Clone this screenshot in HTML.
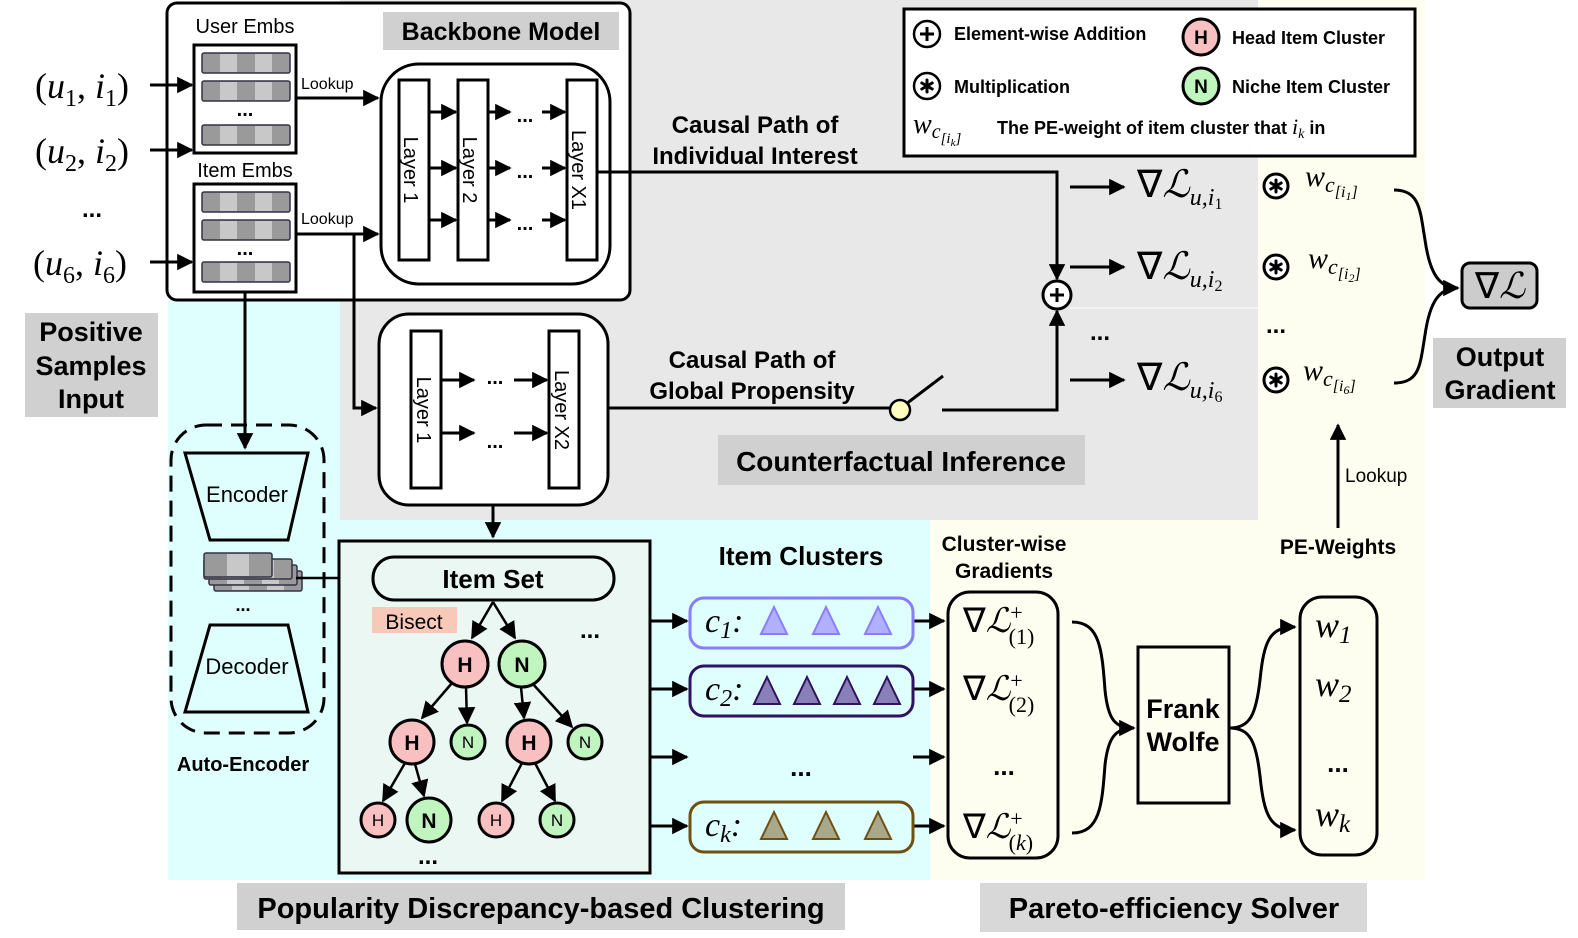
<!DOCTYPE html>
<html><head><meta charset="utf-8"><style>
html,body{margin:0;padding:0;background:#fff;}
svg{display:block;}
.s{font-family:"Liberation Sans",sans-serif;}
.b{font-family:"Liberation Sans",sans-serif;font-weight:bold;}
.m{font-family:"Liberation Serif",serif;font-style:italic;}
.r{font-family:"Liberation Serif",serif;}
</style></head><body>
<svg width="1578" height="938" viewBox="0 0 1578 938" xmlns="http://www.w3.org/2000/svg">
<defs>
<marker id="a" viewBox="0 0 10 10" refX="9" refY="5" markerWidth="6" markerHeight="5.5" orient="auto-start-reverse" markerUnits="strokeWidth"><path d="M0,0 L10,5 L0,10 z" fill="#000"/></marker>
<marker id="a2" viewBox="0 0 10 10" refX="9" refY="5" markerWidth="7" markerHeight="7" orient="auto" markerUnits="strokeWidth"><path d="M0,0 L10,5 L0,10 z" fill="#000"/></marker>
<g id="row"><rect x="0" y="0" width="88" height="20" fill="#9a9a9a" stroke="#334" stroke-width="1.5" rx="2"/><rect x="18" y="1" width="17" height="18" fill="#c8c8c8"/><rect x="53" y="1" width="17" height="18" fill="#c8c8c8"/></g>
<g id="star"><g stroke="#000" stroke-width="3" stroke-linecap="round"><line x1="0" y1="-6" x2="0" y2="6"/><line x1="-5.2" y1="-3" x2="5.2" y2="3"/><line x1="-5.2" y1="3" x2="5.2" y2="-3"/></g></g>
</defs>
<!-- background regions -->
<rect x="168" y="300" width="762" height="580" fill="#dffefe"/>
<rect x="930" y="520" width="495" height="360" fill="#fefef0"/>
<rect x="1258" y="0" width="167" height="520" fill="#fefef0"/>
<rect x="340" y="0" width="918" height="520" fill="#e8e8e8"/>
<line x1="1258" y1="308" x2="1070" y2="308" stroke="#f4f4f4" stroke-width="2"/>

<!-- backbone box -->
<rect x="167" y="3" width="463" height="297" rx="10" fill="#fff" stroke="#000" stroke-width="3"/>
<rect x="383" y="12" width="236" height="38" fill="#d0d0d0"/>
<text x="501" y="40" class="b" font-size="25" text-anchor="middle">Backbone Model</text>
<text x="245" y="33" class="s" font-size="20" text-anchor="middle">User Embs</text>
<rect x="194" y="45" width="102" height="108" fill="#fff" stroke="#000" stroke-width="3"/>
<use href="#row" x="202" y="53"/><use href="#row" x="202" y="81"/><use href="#row" x="202" y="125"/>
<text x="245" y="116" class="b" font-size="20" text-anchor="middle">...</text>
<text x="245" y="177" class="s" font-size="20" text-anchor="middle">Item Embs</text>
<rect x="194" y="184" width="102" height="108" fill="#fff" stroke="#000" stroke-width="3"/>
<use href="#row" x="202" y="192"/><use href="#row" x="202" y="220"/><use href="#row" x="202" y="262"/>
<text x="245" y="255" class="b" font-size="20" text-anchor="middle">...</text>
<text x="301" y="89" class="s" font-size="16">Lookup</text>
<text x="301" y="224" class="s" font-size="16">Lookup</text>
<line x1="296" y1="98" x2="378" y2="98" stroke="#000" stroke-width="3" marker-end="url(#a)"/>
<line x1="296" y1="234" x2="378" y2="234" stroke="#000" stroke-width="3" marker-end="url(#a)"/>
<rect x="381" y="64" width="229" height="220" rx="38" fill="#fff" stroke="#000" stroke-width="3"/>
<rect x="399" y="80" width="30" height="180" fill="#fff" stroke="#000" stroke-width="3"/>
<rect x="458" y="80" width="30" height="180" fill="#fff" stroke="#000" stroke-width="3"/>
<rect x="567" y="80" width="30" height="180" fill="#fff" stroke="#000" stroke-width="3"/>
<text transform="translate(404,170) rotate(90)" class="s" font-size="20" text-anchor="middle">Layer 1</text>
<text transform="translate(463,170) rotate(90)" class="s" font-size="20" text-anchor="middle">Layer 2</text>
<text transform="translate(572,170) rotate(90)" class="s" font-size="20" text-anchor="middle">Layer X1</text>
<g stroke="#000" stroke-width="3">
<line x1="429" y1="112" x2="456" y2="112" marker-end="url(#a)"/><line x1="429" y1="168" x2="456" y2="168" marker-end="url(#a)"/><line x1="429" y1="220" x2="456" y2="220" marker-end="url(#a)"/>
<line x1="488" y1="112" x2="510" y2="112" marker-end="url(#a)"/><line x1="488" y1="168" x2="510" y2="168" marker-end="url(#a)"/><line x1="488" y1="220" x2="510" y2="220" marker-end="url(#a)"/>
<line x1="542" y1="112" x2="565" y2="112" marker-end="url(#a)"/><line x1="542" y1="168" x2="565" y2="168" marker-end="url(#a)"/><line x1="542" y1="220" x2="565" y2="220" marker-end="url(#a)"/>
</g>
<text x="525" y="122" class="b" font-size="20" text-anchor="middle">...</text>
<text x="525" y="178" class="b" font-size="20" text-anchor="middle">...</text>
<text x="525" y="230" class="b" font-size="20" text-anchor="middle">...</text>

<!-- inputs -->
<g class="r" font-size="36">
<text x="35" y="98">(<tspan class="m">u</tspan><tspan font-size="24" dy="8">1</tspan><tspan dy="-8">, </tspan><tspan class="m">i</tspan><tspan font-size="24" dy="8">1</tspan><tspan dy="-8">)</tspan></text>
<text x="35" y="163">(<tspan class="m">u</tspan><tspan font-size="24" dy="8">2</tspan><tspan dy="-8">, </tspan><tspan class="m">i</tspan><tspan font-size="24" dy="8">2</tspan><tspan dy="-8">)</tspan></text>
<text x="33" y="275">(<tspan class="m">u</tspan><tspan font-size="24" dy="8">6</tspan><tspan dy="-8">, </tspan><tspan class="m">i</tspan><tspan font-size="24" dy="8">6</tspan><tspan dy="-8">)</tspan></text>
</g>
<text x="92" y="217" class="b" font-size="24" text-anchor="middle">...</text>
<g stroke="#000" stroke-width="3">
<line x1="150" y1="85" x2="192" y2="85" marker-end="url(#a)"/>
<line x1="150" y1="150" x2="192" y2="150" marker-end="url(#a)"/>
<line x1="150" y1="262" x2="192" y2="262" marker-end="url(#a)"/>
</g>
<rect x="25" y="313" width="133" height="104" fill="#d0d0d0"/>
<g class="b" font-size="27" text-anchor="middle"><text x="91" y="341">Positive</text><text x="91" y="375">Samples</text><text x="91" y="408">Input</text></g>

<!-- connectors from backbone -->
<line x1="245" y1="292" x2="245" y2="448" stroke="#000" stroke-width="3" marker-end="url(#a)"/>
<polyline points="296,234 354,234 354,408 376,408" fill="none" stroke="#000" stroke-width="3" marker-end="url(#a)"/>

<!-- global propensity -->
<rect x="379" y="314" width="229" height="191" rx="30" fill="#fff" stroke="#000" stroke-width="3"/>
<rect x="411" y="331" width="30" height="157" fill="#fff" stroke="#000" stroke-width="3"/>
<rect x="549" y="331" width="30" height="157" fill="#fff" stroke="#000" stroke-width="3"/>
<text transform="translate(417,410) rotate(90)" class="s" font-size="20" text-anchor="middle">Layer 1</text>
<text transform="translate(555,410) rotate(90)" class="s" font-size="20" text-anchor="middle">Layer X2</text>
<g stroke="#000" stroke-width="3">
<line x1="441" y1="380" x2="474" y2="380" marker-end="url(#a)"/><line x1="441" y1="433" x2="474" y2="433" marker-end="url(#a)"/>
<line x1="514" y1="380" x2="547" y2="380" marker-end="url(#a)"/><line x1="514" y1="433" x2="547" y2="433" marker-end="url(#a)"/>
</g>
<text x="495" y="384" class="b" font-size="20" text-anchor="middle">...</text>
<text x="495" y="448" class="b" font-size="20" text-anchor="middle">...</text>
<line x1="493" y1="505" x2="493" y2="537" stroke="#000" stroke-width="3" marker-end="url(#a)"/>

<!-- causal paths -->
<g class="b" font-size="24" text-anchor="middle">
<text x="755" y="133">Causal Path of</text><text x="755" y="164">Individual Interest</text>
<text x="752" y="368">Causal Path of</text><text x="752" y="399">Global Propensity</text>
</g>
<polyline points="597,172 1057,172 1057,279" fill="none" stroke="#000" stroke-width="3" marker-end="url(#a)"/>
<line x1="608" y1="408" x2="890" y2="408" stroke="#000" stroke-width="3"/>
<line x1="906" y1="404" x2="943" y2="376" stroke="#000" stroke-width="3"/>
<circle cx="900" cy="410" r="10" fill="#ffffc0" stroke="#000" stroke-width="2.5"/>
<polyline points="942,410 1057,410 1057,311" fill="none" stroke="#000" stroke-width="3" marker-end="url(#a)"/>
<circle cx="1057" cy="295" r="14" fill="#fff" stroke="#000" stroke-width="3"/>
<g stroke="#000" stroke-width="3"><line x1="1050" y1="295" x2="1064" y2="295"/><line x1="1057" y1="288" x2="1057" y2="302"/></g>
<rect x="718" y="435" width="367" height="50" fill="#d0d0d0"/>
<text x="901" y="471" class="b" font-size="28" text-anchor="middle">Counterfactual Inference</text>

<!-- gradients -->
<g stroke="#000" stroke-width="3">
<line x1="1070" y1="187" x2="1124" y2="187" marker-end="url(#a)"/>
<line x1="1070" y1="267" x2="1124" y2="267" marker-end="url(#a)"/>
<line x1="1070" y1="380" x2="1124" y2="380" marker-end="url(#a)"/>
</g>
<text x="1100" y="340" class="b" font-size="24" text-anchor="middle">...</text>
<g class="r" font-size="38">
<text x="1137" y="197">∇<tspan class="m">ℒ</tspan><tspan class="m" font-size="24" dy="8">u,i</tspan><tspan font-size="16" dy="4">1</tspan></text>
<text x="1137" y="279">∇<tspan class="m">ℒ</tspan><tspan class="m" font-size="24" dy="8">u,i</tspan><tspan font-size="16" dy="4">2</tspan></text>
<text x="1137" y="390">∇<tspan class="m">ℒ</tspan><tspan class="m" font-size="24" dy="8">u,i</tspan><tspan font-size="16" dy="4">6</tspan></text>
</g>
<g stroke="#000" stroke-width="3" fill="#fff">
<circle cx="1276" cy="186" r="12"/><circle cx="1276" cy="267" r="12"/><circle cx="1276" cy="380" r="12"/>
</g>
<use href="#star" x="1276" y="186"/><use href="#star" x="1276" y="267"/><use href="#star" x="1276" y="380"/>
<text x="1276" y="333" class="b" font-size="24" text-anchor="middle">...</text>
<g class="m" font-size="30">
<text x="1305" y="186">w<tspan font-size="22" dy="6">c</tspan><tspan font-size="16" dy="5" class="r">[</tspan><tspan font-size="16">i</tspan><tspan font-size="12" dy="3" class="r">1</tspan><tspan font-size="16" dy="-3" class="r">]</tspan></text>
<text x="1308" y="268">w<tspan font-size="22" dy="6">c</tspan><tspan font-size="16" dy="5" class="r">[</tspan><tspan font-size="16">i</tspan><tspan font-size="12" dy="3" class="r">2</tspan><tspan font-size="16" dy="-3" class="r">]</tspan></text>
<text x="1303" y="380">w<tspan font-size="22" dy="6">c</tspan><tspan font-size="16" dy="5" class="r">[</tspan><tspan font-size="16">i</tspan><tspan font-size="12" dy="3" class="r">6</tspan><tspan font-size="16" dy="-3" class="r">]</tspan></text>
</g>
<path d="M1394,190 C1420,190 1420,210 1425,240 C1430,275 1440,288 1458,288" fill="none" stroke="#000" stroke-width="3" marker-end="url(#a)"/>
<path d="M1394,383 C1420,383 1420,365 1425,335 C1430,300 1440,288 1458,288" fill="none" stroke="#000" stroke-width="3"/>
<rect x="1462" y="263" width="75" height="45" rx="8" fill="#cccccc" stroke="#000" stroke-width="3"/>
<text x="1500" y="298" class="r" font-size="36" text-anchor="middle">∇<tspan class="m">ℒ</tspan></text>
<rect x="1433" y="338" width="133" height="70" fill="#d0d0d0"/>
<g class="b" font-size="27" text-anchor="middle"><text x="1500" y="366">Output</text><text x="1500" y="399">Gradient</text></g>
<line x1="1338" y1="528" x2="1338" y2="425" stroke="#000" stroke-width="3" marker-end="url(#a)"/>
<text x="1345" y="482" class="s" font-size="19">Lookup</text>

<!-- legend -->
<rect x="904" y="9" width="511" height="147" fill="#fff" stroke="#000" stroke-width="3"/>
<circle cx="927" cy="34" r="13" fill="#fff" stroke="#000" stroke-width="2.5"/>
<g stroke="#000" stroke-width="3"><line x1="920" y1="34" x2="934" y2="34"/><line x1="927" y1="27" x2="927" y2="41"/></g>
<circle cx="927" cy="86" r="13" fill="#fff" stroke="#000" stroke-width="2.5"/><use href="#star" x="927" y="86"/>
<text x="954" y="40" class="b" font-size="18">Element-wise Addition</text>
<text x="954" y="93" class="b" font-size="18">Multiplication</text>
<circle cx="1201" cy="37" r="18" fill="#f8c0c0" stroke="#000" stroke-width="3"/><text x="1201" y="44" class="b" font-size="19" text-anchor="middle">H</text>
<circle cx="1201" cy="86" r="18" fill="#c0f5c0" stroke="#000" stroke-width="3"/><text x="1201" y="93" class="b" font-size="19" text-anchor="middle">N</text>
<text x="1232" y="44" class="b" font-size="18">Head Item Cluster</text>
<text x="1232" y="93" class="b" font-size="18">Niche Item Cluster</text>
<text x="913" y="133" class="m" font-size="28">w<tspan font-size="20" dy="5">c</tspan><tspan font-size="15" dy="5" class="r">[</tspan><tspan font-size="15">i</tspan><tspan font-size="11" dy="3">k</tspan><tspan font-size="15" dy="-3" class="r">]</tspan></text>
<text x="997" y="134" class="b" font-size="18">The PE-weight of item cluster that <tspan class="m" font-weight="normal" font-size="22">i</tspan><tspan class="m" font-weight="normal" font-size="14" dy="4">k</tspan><tspan dy="-4"> in</tspan></text>

<!-- auto-encoder -->
<rect x="171" y="425" width="153" height="308" rx="35" fill="none" stroke="#000" stroke-width="3" stroke-dasharray="16,9"/>
<polygon points="185,453 308,453 288,540 210,540" fill="#dffefe" stroke="#000" stroke-width="3"/>
<text x="247" y="502" class="s" font-size="22" text-anchor="middle">Encoder</text>
<use href="#row" x="214" y="571"/><use href="#row" x="209" y="565"/><use href="#row" x="204" y="559"/>
<rect x="204" y="553" width="68" height="24" fill="#9a9a9a" stroke="#334" stroke-width="1.5" rx="2"/><rect x="227" y="554" width="22" height="22" fill="#c8c8c8"/>
<text x="243" y="611" class="b" font-size="18" text-anchor="middle">...</text>
<polygon points="210,625 288,625 308,712 185,712" fill="#dffefe" stroke="#000" stroke-width="3"/>
<text x="247" y="674" class="s" font-size="22" text-anchor="middle">Decoder</text>
<text x="243" y="771" class="b" font-size="20" text-anchor="middle">Auto-Encoder</text>
<line x1="296" y1="578" x2="369" y2="578" stroke="#000" stroke-width="2.5" marker-end="url(#a)"/>

<!-- item set -->
<rect x="339" y="541" width="311" height="332" fill="#eaf7f3" stroke="#000" stroke-width="3"/>
<rect x="373" y="557" width="241" height="43" rx="21" fill="#eaf7f3" stroke="#000" stroke-width="3"/>
<text x="493" y="588" class="b" font-size="26" text-anchor="middle">Item Set</text>
<rect x="372" y="607" width="85" height="26" fill="#f8c8b8"/>
<text x="414" y="629" class="s" font-size="21" text-anchor="middle">Bisect</text>
<text x="590" y="638" class="b" font-size="24" text-anchor="middle">...</text>
<g stroke="#000" stroke-width="2.5">
<line x1="493" y1="602" x2="472" y2="638" marker-end="url(#a2)"/>
<line x1="493" y1="602" x2="515" y2="638" marker-end="url(#a2)"/>
<line x1="452" y1="683" x2="422" y2="718" marker-end="url(#a2)"/>
<line x1="466" y1="687" x2="467" y2="723" marker-end="url(#a2)"/>
<line x1="521" y1="687" x2="524" y2="718" marker-end="url(#a2)"/>
<line x1="532" y1="683" x2="572" y2="727" marker-end="url(#a2)"/>
<line x1="405" y1="763" x2="383" y2="801" marker-end="url(#a2)"/>
<line x1="415" y1="764" x2="424" y2="796" marker-end="url(#a2)"/>
<line x1="522" y1="763" x2="502" y2="801" marker-end="url(#a2)"/>
<line x1="535" y1="763" x2="555" y2="801" marker-end="url(#a2)"/>
</g>
<g stroke="#000" stroke-width="3">
<circle cx="465" cy="664" r="23" fill="#f8c0c0"/><circle cx="522" cy="664" r="23" fill="#c0f5c0"/>
<circle cx="412" cy="742" r="22" fill="#f8c0c0"/><circle cx="468" cy="742" r="17" fill="#c0f5c0"/>
<circle cx="529" cy="742" r="22" fill="#f8c0c0"/><circle cx="585" cy="742" r="17" fill="#c0f5c0"/>
<circle cx="378" cy="820" r="17" fill="#f8c0c0"/><circle cx="429" cy="820" r="22" fill="#c0f5c0"/>
<circle cx="496" cy="820" r="17" fill="#f8c0c0"/><circle cx="557" cy="820" r="17" fill="#c0f5c0"/>
</g>
<g class="b" text-anchor="middle">
<text x="465" y="672" font-size="21">H</text><text x="522" y="672" font-size="21">N</text>
<text x="412" y="750" font-size="21">H</text><text x="529" y="750" font-size="21">H</text>
<text x="429" y="828" font-size="21">N</text>
</g>
<g class="s" text-anchor="middle" font-size="17">
<text x="468" y="748">N</text><text x="585" y="748">N</text>
<text x="378" y="826">H</text><text x="496" y="826">H</text><text x="557" y="826">N</text>
</g>
<text x="428" y="864" class="b" font-size="24" text-anchor="middle">...</text>

<!-- clusters -->
<text x="801" y="565" class="b" font-size="26" text-anchor="middle">Item Clusters</text>
<g stroke="#000" stroke-width="3">
<line x1="650" y1="621" x2="687" y2="621" marker-end="url(#a)"/>
<line x1="650" y1="689" x2="687" y2="689" marker-end="url(#a)"/>
<line x1="650" y1="757" x2="687" y2="757" marker-end="url(#a)"/>
<line x1="650" y1="826" x2="687" y2="826" marker-end="url(#a)"/>
<line x1="913" y1="621" x2="944" y2="621" marker-end="url(#a)"/>
<line x1="913" y1="689" x2="944" y2="689" marker-end="url(#a)"/>
<line x1="913" y1="757" x2="944" y2="757" marker-end="url(#a)"/>
<line x1="913" y1="826" x2="944" y2="826" marker-end="url(#a)"/>
</g>
<rect x="690" y="598" width="223" height="50" rx="14" fill="#dffefe" stroke="#8a7cff" stroke-width="3"/>
<rect x="690" y="666" width="223" height="50" rx="14" fill="#dffefe" stroke="#2e1460" stroke-width="3"/>
<rect x="690" y="802" width="223" height="50" rx="14" fill="#dffefe" stroke="#6e5010" stroke-width="3"/>
<g class="m" font-size="34">
<text x="705" y="632">c<tspan class="r" font-size="24" dy="6">1</tspan><tspan class="r" dy="-6">:</tspan></text>
<text x="705" y="700">c<tspan class="r" font-size="24" dy="6">2</tspan><tspan class="r" dy="-6">:</tspan></text>
<text x="705" y="836">c<tspan font-size="24" dy="6">k</tspan><tspan class="r" dy="-6">:</tspan></text>
</g>
<g stroke-width="2">
<polygon points="774,607 787,634 761,634" fill="#b0b0ff" stroke="#8a7cff"/>
<polygon points="826,607 839,634 813,634" fill="#b0b0ff" stroke="#8a7cff"/>
<polygon points="878,607 891,634 865,634" fill="#b0b0ff" stroke="#8a7cff"/>
<polygon points="767,677 780,704 754,704" fill="#8a80b8" stroke="#2e1460"/>
<polygon points="807,677 820,704 794,704" fill="#8a80b8" stroke="#2e1460"/>
<polygon points="847,677 860,704 834,704" fill="#8a80b8" stroke="#2e1460"/>
<polygon points="887,677 900,704 874,704" fill="#8a80b8" stroke="#2e1460"/>
<polygon points="774,812 787,839 761,839" fill="#aaa88a" stroke="#6e5010"/>
<polygon points="826,812 839,839 813,839" fill="#aaa88a" stroke="#6e5010"/>
<polygon points="878,812 891,839 865,839" fill="#aaa88a" stroke="#6e5010"/>
</g>
<text x="801" y="776" class="b" font-size="26" text-anchor="middle">...</text>

<!-- pareto -->
<g class="b" font-size="21" text-anchor="middle"><text x="1004" y="551">Cluster-wise</text><text x="1004" y="578">Gradients</text></g>
<rect x="948" y="592" width="110" height="266" rx="22" fill="#fefef0" stroke="#000" stroke-width="3"/>
<g class="r" font-size="34">
<text x="963" y="632">∇<tspan class="m">ℒ</tspan><tspan font-size="22" dy="-12">+</tspan><tspan font-size="22" dx="-14" dy="24">(1)</tspan></text>
<text x="963" y="700">∇<tspan class="m">ℒ</tspan><tspan font-size="22" dy="-12">+</tspan><tspan font-size="22" dx="-14" dy="24">(2)</tspan></text>
<text x="963" y="838">∇<tspan class="m">ℒ</tspan><tspan font-size="22" dy="-12">+</tspan><tspan font-size="22" dx="-14" dy="24">(<tspan class="m">k</tspan>)</tspan></text>
</g>
<text x="1004" y="775" class="b" font-size="26" text-anchor="middle">...</text>
<path d="M1072,622 C1100,622 1102,650 1105,690 C1108,720 1115,728 1134,728" fill="none" stroke="#000" stroke-width="3" marker-end="url(#a)"/>
<path d="M1072,833 C1100,833 1102,805 1105,765 C1108,738 1115,728 1134,728" fill="none" stroke="#000" stroke-width="3"/>
<rect x="1138" y="647" width="91" height="156" fill="#fefef0" stroke="#000" stroke-width="3"/>
<g class="b" font-size="27" text-anchor="middle"><text x="1183" y="718">Frank</text><text x="1183" y="751">Wolfe</text></g>
<path d="M1229,728 C1250,728 1256,715 1260,680 C1264,640 1270,627 1295,627" fill="none" stroke="#000" stroke-width="3" marker-end="url(#a)"/>
<path d="M1229,728 C1250,728 1256,741 1260,776 C1264,815 1270,830 1295,830" fill="none" stroke="#000" stroke-width="3" marker-end="url(#a)"/>
<text x="1338" y="554" class="b" font-size="21" text-anchor="middle">PE-Weights</text>
<rect x="1300" y="597" width="77" height="258" rx="22" fill="#fefef0" stroke="#000" stroke-width="3"/>
<g class="m" font-size="36">
<text x="1315" y="637">w<tspan class="r" font-size="25" dy="6">1</tspan></text>
<text x="1315" y="696">w<tspan class="r" font-size="25" dy="6">2</tspan></text>
<text x="1315" y="826">w<tspan font-size="25" dy="6">k</tspan></text>
</g>
<text x="1338" y="772" class="b" font-size="26" text-anchor="middle">...</text>

<!-- bottom labels -->
<rect x="237" y="883" width="608" height="47" fill="#d0d0d0"/>
<text x="541" y="918" class="b" font-size="29" text-anchor="middle">Popularity Discrepancy-based Clustering</text>
<rect x="980" y="883" width="387" height="49" fill="#d8d8d8"/>
<text x="1174" y="918" class="b" font-size="29" text-anchor="middle">Pareto-efficiency Solver</text>
</svg>
</body></html>
